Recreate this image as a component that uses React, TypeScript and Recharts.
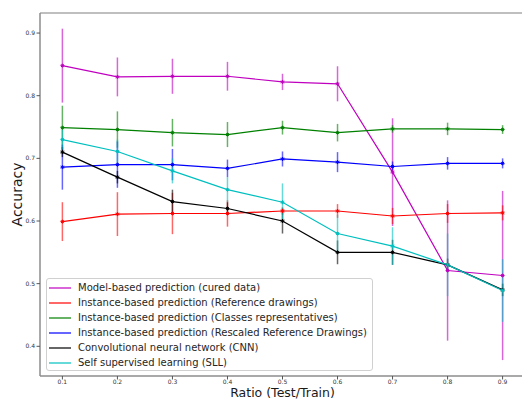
import { LineChart, Line, XAxis, YAxis, ErrorBar, Legend, ReferenceLine, Label } from "recharts";

const ratios = [0.1, 0.2, 0.3, 0.4, 0.5, 0.6, 0.7, 0.8, 0.9];
const yTicks = [0.4, 0.5, 0.6, 0.7, 0.8, 0.9];

const modelBased = [0.848, 0.830, 0.831, 0.831, 0.822, 0.819, 0.678, 0.521, 0.513];
const modelBasedErr = [0.059, 0.031, 0.028, 0.023, 0.013, 0.028, 0.086, 0.112, 0.135];
const refDrawings = [0.599, 0.611, 0.612, 0.612, 0.616, 0.616, 0.608, 0.612, 0.613];
const refDrawingsErr = [0.031, 0.035, 0.033, 0.021, 0.006, 0.011, 0.013, 0.015, 0.012];
const classReps = [0.749, 0.746, 0.741, 0.738, 0.749, 0.741, 0.747, 0.747, 0.746];
const classRepsErr = [0.035, 0.029, 0.022, 0.020, 0.011, 0.014, 0.006, 0.010, 0.007];
const rescaled = [0.686, 0.690, 0.690, 0.684, 0.699, 0.694, 0.687, 0.692, 0.692];
const rescaledErr = [0.036, 0.037, 0.025, 0.014, 0.012, 0.016, 0.008, 0.010, 0.008];
const cnn = [0.710, 0.670, 0.631, 0.620, 0.600, 0.550, 0.550, 0.530, 0.490];
const cnnErr = [0.008, 0.010, 0.019, 0.010, 0.020, 0.019, 0.020, 0.010, 0.010];
const sll = [0.730, 0.711, 0.680, 0.650, 0.630, 0.580, 0.560, 0.530, 0.489];
const sllErr = [0.016, 0.019, 0.020, 0.020, 0.030, 0.030, 0.030, 0.050, 0.050];

const series = [
  { key: "model", name: "Model-based prediction (cured data)", color: "#bf00bf", values: modelBased, errs: modelBasedErr },
  { key: "ref", name: "Instance-based prediction (Reference drawings)", color: "#ff0000", values: refDrawings, errs: refDrawingsErr },
  { key: "classes", name: "Instance-based prediction (Classes representatives)", color: "#008000", values: classReps, errs: classRepsErr },
  { key: "rescaled", name: "Instance-based prediction (Rescaled Reference Drawings)", color: "#0000ff", values: rescaled, errs: rescaledErr },
  { key: "cnn", name: "Convolutional neural network (CNN)", color: "#000000", values: cnn, errs: cnnErr },
  { key: "sll", name: "Self supervised learning (SLL)", color: "#00bfbf", values: sll, errs: sllErr },
];

const data = ratios.map((r, i) => {
  const row: Record<string, number> = { ratio: r };
  series.forEach((s) => {
    row[s.key] = s.values[i];
    row[s.key + "Err"] = s.errs[i];
  });
  return row;
});

const font = "DejaVu Sans, sans-serif";
const spine = "#8c8c8c";

function marker(color: string) {
  return (props: any) => {
    const { cx, cy, index } = props;
    const r = 2;
    return (
      <path
        key={`m-${index}`}
        d={`M${cx - r},${cy}H${cx + r}M${cx},${cy - r}V${cy + r}M${cx - 1.4},${cy - 1.4}L${cx + 1.4},${cy + 1.4}M${cx - 1.4},${cy + 1.4}L${cx + 1.4},${cy - 1.4}`}
        stroke={color}
        strokeWidth={1}
        fill="none"
      />
    );
  };
}

function LegendBox() {
  return (
    <div
      style={{
        boxSizing: "border-box",
        width: 327,
        height: 93,
        border: "1px solid #d0d0d0",
        borderRadius: 3,
        background: "rgba(255,255,255,0.8)",
        paddingTop: 1,
        paddingLeft: 2,
        fontFamily: font,
        fontSize: 10,
        color: "#262626",
      }}
    >
      {series.map((s) => (
        <div key={s.key} style={{ display: "flex", alignItems: "center", height: 15, whiteSpace: "nowrap" }}>
          <div style={{ width: 22, height: 2, background: s.color, opacity: 0.6, marginRight: 7 }} />
          <span>{s.name}</span>
        </div>
      ))}
    </div>
  );
}

export default function App() {
  return (
    <div style={{ position: "fixed", left: 0, top: 0, width: 522, height: 400, overflow: "hidden", background: "#fff" }}>
      <LineChart width={530} height={400} data={data} margin={{ top: 13, right: 5, bottom: 0, left: 0 }}>
        <XAxis
          dataKey="ratio"
          type="number"
          domain={[0.0593, 0.9407]}
          ticks={ratios}
          tickFormatter={(v: number) => v.toFixed(1)}
          height={24}
          stroke={spine}
          axisLine={{ stroke: spine, strokeWidth: 1.5 }}
          tickLine={{ stroke: "#555" }}
          tickSize={3.5}
          tickMargin={0}
          tick={{ fontSize: 6, fill: "#333", fontFamily: font }}
          allowDataOverflow
        >
          <Label
            content={(p: any) => {
              const vb = p.viewBox || { x: 40, width: 485 };
              return (
                <text x={vb.x + vb.width / 2} y={397} textAnchor="middle" fontSize={12.5} fontFamily={font} fill="#1a1a1a">
                  Ratio (Test/Train)
                </text>
              );
            }}
          />
        </XAxis>
        <YAxis
          type="number"
          domain={[0.3526, 0.932]}
          ticks={yTicks}
          tickFormatter={(v: number) => v.toFixed(1)}
          width={40}
          axisLine={{ stroke: spine, strokeWidth: 1.5 }}
          tickLine={{ stroke: "#555" }}
          tickSize={3.5}
          tickMargin={1.5}
          tick={{ fontSize: 6, fill: "#333", fontFamily: font }}
          allowDataOverflow
        >
          <Label
            content={() => (
              <text x={22} y={194.5} transform="rotate(-90, 22, 194.5)" textAnchor="middle" fontSize={14} fontFamily={font} fill="#1a1a1a">
                Accuracy
              </text>
            )}
          />
        </YAxis>
        <ReferenceLine y={0.932} stroke="#aaaaaa" strokeWidth={1.5} ifOverflow="visible" />
        {series.map((s) => (
          <Line
            key={s.key}
            dataKey={s.key}
            name={s.name}
            stroke={s.color}
            strokeWidth={1.2}
            dot={marker(s.color)}
            activeDot={false}
            isAnimationActive={false}
            type="linear"
          >
            <ErrorBar dataKey={s.key + "Err"} direction="y" width={0} stroke={s.color} strokeWidth={1.5} strokeOpacity={0.6} />
          </Line>
        ))}
        <Legend
          layout="horizontal"
          verticalAlign="middle"
          align="center"
          content={() => <LegendBox />}
          wrapperStyle={{ left: 46, top: 278, width: 327, height: 93 }}
        />
      </LineChart>
    </div>
  );
}
